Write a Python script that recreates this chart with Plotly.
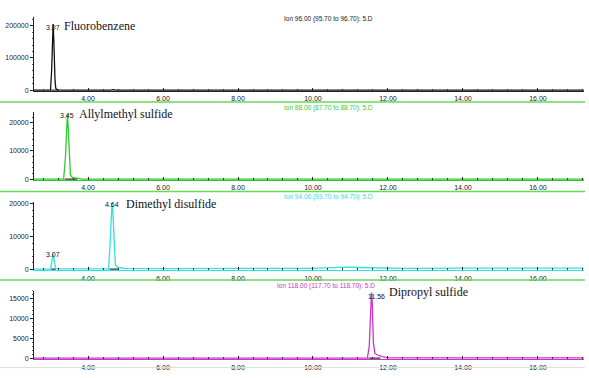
import plotly.graph_objects as go

W, H = 589, 378

# ---------------- data ----------------
# Panel 1: Ion 96 (Fluorobenzene)
t_ion96 = [2.56, 2.95, 3.00, 3.03, 3.05, 3.07, 3.09, 3.10, 3.12, 3.14, 3.17, 3.22, 3.30, 4.60, 4.67, 4.74, 17.22]
i_ion96 = [0, 0, 0, 60000, 190000, 205000, 150000, 90000, 30000, 6000, 1500, 600, 0, 0, 1500, 0, 0]

# Panel 2: Ion 88 (Allylmethyl sulfide)
t_ion88 = [2.56, 3.35, 3.40, 3.43, 3.45, 3.47, 3.50, 3.53, 3.58, 3.70, 3.85, 17.22]
i_ion88 = [0, 0, 8000, 21000, 23200, 19000, 6000, 1500, 600, 300, 0, 0]

# Panel 3: Ion 94 (Dimethyl disulfide)
t_ion94 = [2.56, 3.00, 3.04, 3.07, 3.10, 3.14, 3.30, 4.55, 4.59, 4.62, 4.64, 4.66, 4.69, 4.73,
           4.80, 5.00, 6.00, 8.00, 9.00, 10.00, 10.30, 10.60, 10.90, 11.20, 11.50, 11.70, 12.50,
           14.00, 16.00, 17.22]
i_ion94 = [0, 0, 2500, 4800, 2500, 200, 100, 100, 8000, 19000, 20300, 18000, 8000, 1200,
           500, 250, 150, 150, 250, 250, 400, 550, 600, 500, 450, 250, 250,
           300, 300, 300]

# Panel 4: Ion 118 (Dipropyl sulfide)
t_ion118 = [2.56, 11.45, 11.50, 11.53, 11.56, 11.58, 11.61, 11.65, 11.72, 11.85, 12.00, 17.22]
i_ion118 = [0, 0, 3000, 12000, 16600, 14000, 4000, 1200, 800, 400, 100, 100]

# integration baselines (start, end) per peak
base_ion96 = [3.02, 3.22]
base_ion88 = [3.38, 3.72]
base_ion94_a = [3.02, 3.14]
base_ion94_b = [4.57, 4.80]
base_ion118 = [11.48, 11.80]

# peak labels
peaks_ion96 = [(3.07, 200000, "3.07")]
peaks_ion88 = [(3.45, 23200, "3.45")]
peaks_ion94 = [(3.07, 4800, "3.07"), (4.64, 20300, "4.64")]
peaks_ion118 = [(11.56, 16600, "11.56")]

compounds = ["Fluorobenzene", "Allylmethyl sulfide", "Dimethyl disulfide", "Dipropyl sulfide"]
headers = ["Ion 96.00 (95.70 to 96.70): 5.D", "Ion 88.00 (87.70 to 88.70): 5.D",
           "Ion 94.00 (93.70 to 94.70): 5.D", "Ion 118.00 (117.70 to 118.70): 5.D"]
y_ticks = [[0, 100000, 200000], [0, 10000, 20000], [0, 10000, 20000], [0, 5000, 10000, 15000]]
x_range = [2.56, 17.227]

# ---------------- layout helpers ----------------
def fx(p):
    return p / W

def fy(p):
    return (H - p) / H

colors = ["#111111", "#2ccc2c", "#38dede", "#cc33cc"]
header_colors = ["#222222", "#33cc33", "#33dddd", "#cc33cc"]
# (bottom pixel of zero, top pixel, units per pixel)
geom = [(89, 15, 200000 / 65), (179, 111, 10000 / 28.5), (270, 202, 10000 / 33), (360, 292, 5000 / 20)]
minor_dt = [20000, 2000, 2000, 1000]
comp_pos = [(62, 24), (77, 113), (124, 204), (387, 293)]
head_pos = [(328, 17), (328, 107), (328, 197), (326, 287)]

series = [(t_ion96, i_ion96), (t_ion88, i_ion88), (t_ion94, i_ion94), (t_ion118, i_ion118)]
bases = [[base_ion96], [base_ion88], [base_ion94_a, base_ion94_b], [base_ion118]]
peaks = [peaks_ion96, peaks_ion88, peaks_ion94, peaks_ion118]
peak_shift = [(0, 0), (0, 0), (0, 0), (5, -3)]

fig = go.Figure()
annotations = []
layout = dict(width=W, height=H, margin=dict(l=0, r=0, t=0, b=0),
              paper_bgcolor="white", plot_bgcolor="white", showlegend=False,
              font=dict(family="Liberation Sans, Arial", size=7, color="#111"))

for k in range(4):
    n = k + 1
    xa = "x" if n == 1 else f"x{n}"
    ya = "y" if n == 1 else f"y{n}"
    b, t, s = geom[k]
    tx, iy = series[k]
    for bs in bases[k]:
        fig.add_trace(go.Scatter(x=bs, y=[0, 0], mode="lines", xaxis=xa, yaxis=ya,
                                 line=dict(color="#333333", width=1.2), hoverinfo="skip"))
    fig.add_trace(go.Scatter(x=tx, y=iy, mode="lines", xaxis=xa, yaxis=ya,
                             line=dict(color=colors[k], width=1.3)))
    layout[f"xaxis{'' if n == 1 else n}"] = dict(
        domain=[fx(34), fx(584)], anchor=ya, range=x_range,
        tick0=0, dtick=2, tickformat=".2f", ticks="inside", ticklen=3, tickwidth=1,
        ticklabelstandoff=1,
        tickcolor="#222", showline=True, linecolor=colors[k] if k else "#222", linewidth=1,
        showgrid=False, zeroline=False, tickfont=dict(size=7, color="#222"),
        minor=dict(tick0=0, dtick=0.4, ticks="inside", ticklen=2, tickcolor="#333", showgrid=False))
    layout[f"yaxis{'' if n == 1 else n}"] = dict(
        domain=[fy(b + 1), fy(t)], anchor=xa, range=[-s, (b - t) * s],
        tickvals=y_ticks[k], ticktext=[str(v) for v in y_ticks[k]],
        ticks="outside", ticklen=3, tickcolor="#222", showline=True, linecolor="#222",
        linewidth=1, showgrid=False, zeroline=False, tickfont=dict(size=7, color="#222"),
        minor=dict(dtick=minor_dt[k], ticks="outside", ticklen=1.5, tickcolor="#555", showgrid=False))
    for (pxv, pyv, lab) in peaks[k]:
        annotations.append(dict(x=pxv, y=pyv, xref=xa, yref=ya, text=lab, showarrow=False,
                                xanchor="center", yanchor="bottom", yshift=-7 + peak_shift[k][1],
                                xshift=peak_shift[k][0],
                                font=dict(size=7, color="#111", family="Liberation Sans, Arial")))
    cx, cy = comp_pos[k]
    annotations.append(dict(x=fx(cx), y=fy(cy), xref="paper", yref="paper", text=compounds[k],
                            showarrow=False, xanchor="left", yanchor="middle",
                            font=dict(family="Liberation Serif, Times New Roman", size=12, color="#111")))
    hx, hy = head_pos[k]
    annotations.append(dict(x=fx(hx), y=fy(hy), xref="paper", yref="paper", text=headers[k],
                            showarrow=False, xanchor="center", yanchor="middle",
                            font=dict(family="Liberation Sans Narrow, Liberation Sans, Arial", size=6.5,
                                      color=header_colors[k])))

shapes = []
for yp in [101, 191.5, 281]:
    shapes.append(dict(type="line", xref="paper", yref="paper", x0=0, x1=fx(585), y0=fy(yp), y1=fy(yp),
                       line=dict(color="#66d85a", width=1.5)))
shapes.append(dict(type="line", xref="paper", yref="paper", x0=0, x1=fx(585), y0=fy(369.5), y1=fy(369.5),
                   line=dict(color="#dddddd", width=1)))

layout["annotations"] = annotations
layout["shapes"] = shapes
fig.update_layout(**layout)
fig.write_html("out.html")
